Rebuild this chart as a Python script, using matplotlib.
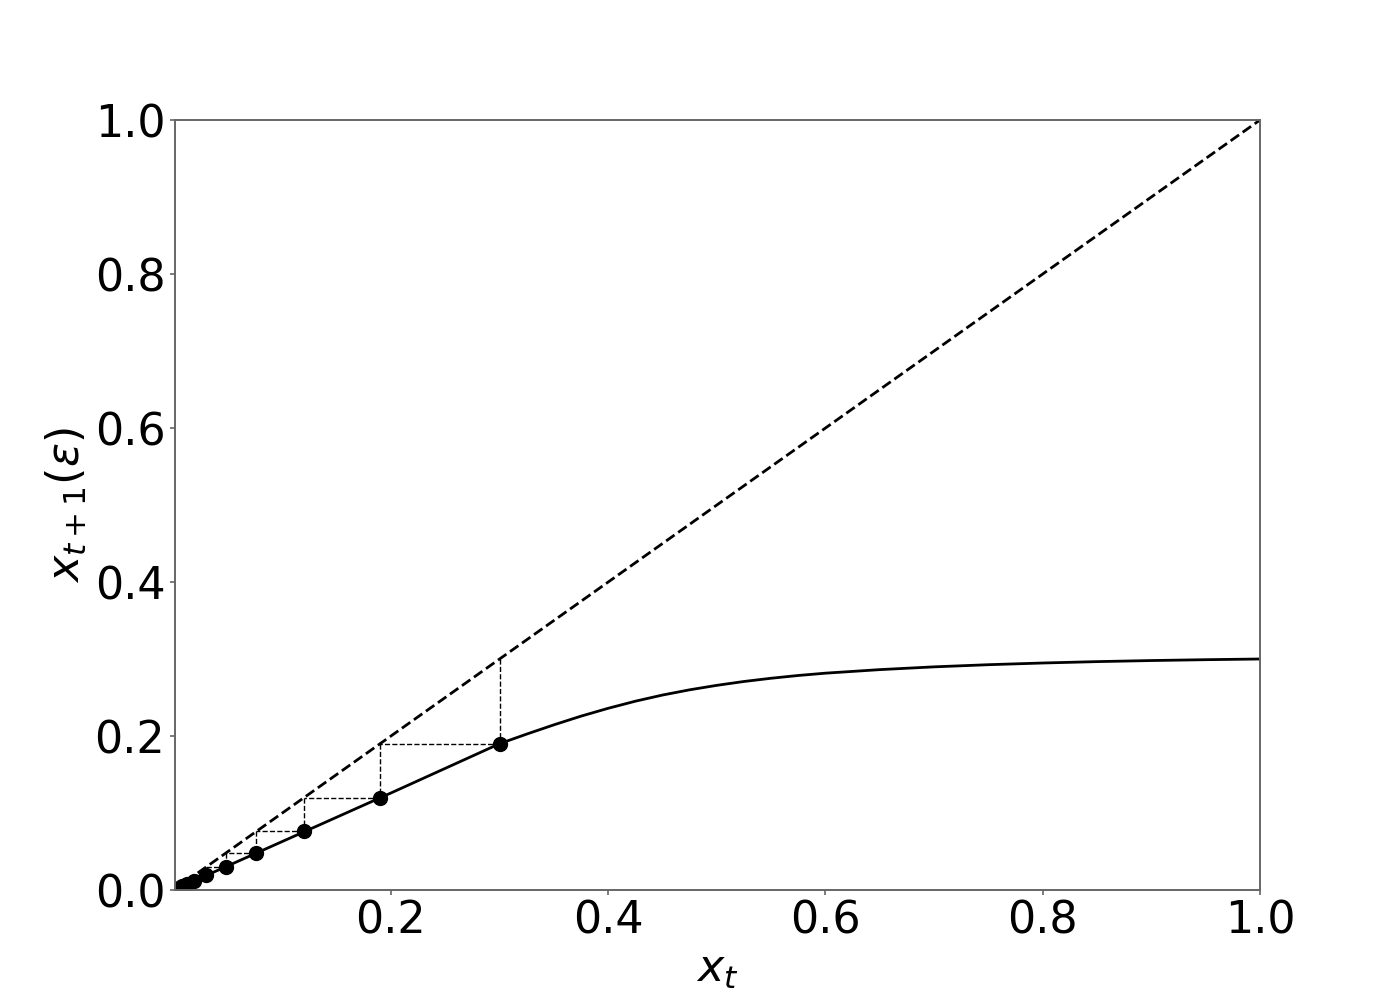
import matplotlib
matplotlib.use("Agg")
import matplotlib.pyplot as plt
import numpy as np

# map curve x_{t+1}(x_t)
curve_x = [0.0, 0.05, 0.10, 0.15, 0.20, 0.25, 0.30, 0.325, 0.35, 0.375, 0.40,
           0.425, 0.45, 0.475, 0.50, 0.525, 0.55, 0.575, 0.60, 0.65, 0.70,
           0.75, 0.80, 0.85, 0.90, 0.95, 1.0]
curve_y = [0.0, 0.0315, 0.063, 0.0945, 0.126, 0.158, 0.190, 0.2025, 0.2145, 0.2258, 0.2360,
           0.2452, 0.2532, 0.2600, 0.2658, 0.2708, 0.2750, 0.2786, 0.2816, 0.2862, 0.2898,
           0.2926, 0.2948, 0.2966, 0.2980, 0.2991, 0.3000]

# iterates of the map, starting at x0 = 0.3
x_iter = [0.30, 0.19, 0.120, 0.076, 0.048, 0.030, 0.019, 0.012, 0.0076,
          0.0048, 0.0030, 0.0019, 0.0012]

fig, ax = plt.subplots(figsize=(14, 10), dpi=100)

ax.plot([0, 1], [0, 1], "k--", lw=2)
ax.plot(curve_x, curve_y, "k-", lw=2)

# cobweb steps
for a, b in zip(x_iter[:-1], x_iter[1:]):
    ax.plot([a, a], [a, b], "k--", lw=1)
    ax.plot([a, b], [b, b], "k--", lw=1)
ax.plot(x_iter[:-1], x_iter[1:], "ko", ms=10)

ax.set_xlim(x_iter[-1], 1)
ax.set_ylim(0, 1)
ax.set_xlabel(r"$x_t$", fontsize=32)
ax.set_ylabel(r"$x_{t+1}(\varepsilon)$", fontsize=32)
ax.tick_params(labelsize=32, color="0.4", width=1.2)
for s in ax.spines.values():
    s.set_color("0.4")
    s.set_linewidth(1.4)

fig.savefig("out.png", dpi=100)
